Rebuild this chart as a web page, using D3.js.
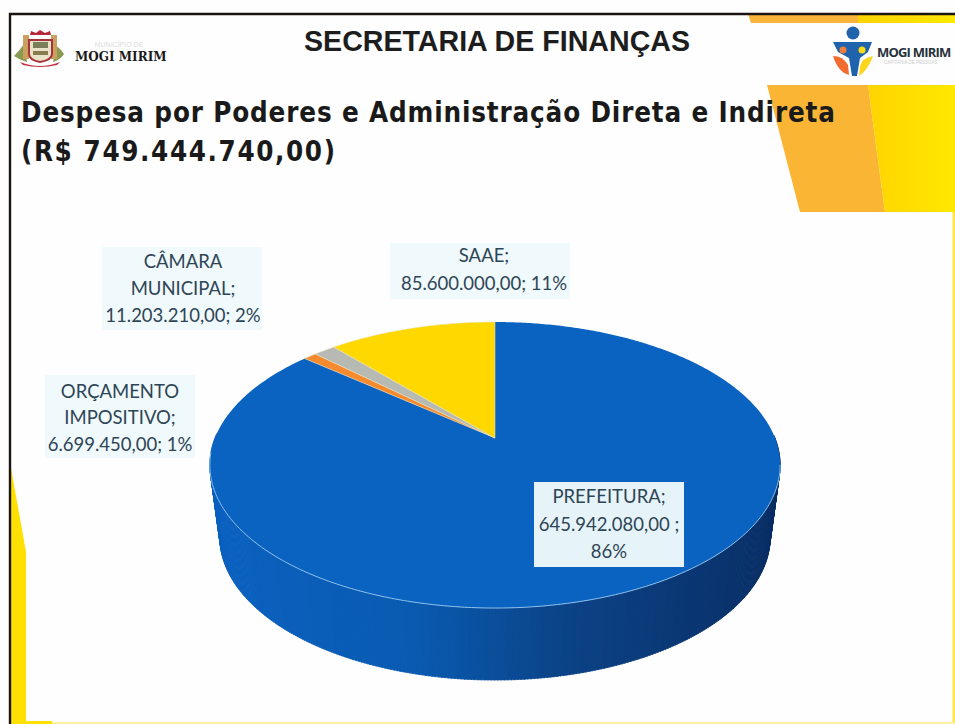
<!DOCTYPE html>
<html>
<head>
<meta charset="utf-8">
<script src="https://cdn.jsdelivr.net/npm/d3@7"></script>
<style>
html,body{margin:0;padding:0;background:#fff;overflow:hidden}
svg{display:block}
</style>
</head>
<body>
<svg id="c" width="955" height="724"></svg>
<script>
// ---- data ----
const categories = ["PREFEITURA", "ORÇAMENTO IMPOSITIVO", "CÂMARA MUNICIPAL", "SAAE"];
const values = [645942080, 6699450, 11203210, 85600000];
const percentLabels = ["86%", "1%", "2%", "11%"];
const colors = ["#0b63c1", "#f58b2e", "#b6bab2", "#ffd800"];
const labelLines = [
  ["PREFEITURA;", "645.942.080,00 ;", "86%"],
  ["ORÇAMENTO", "IMPOSITIVO;", "6.699.450,00; 1%"],
  ["CÂMARA", "MUNICIPAL;", "11.203.210,00; 2%"],
  ["SAAE;", "85.600.000,00; 11%"]
];
const titleText = "SECRETARIA DE FINANÇAS";
const subtitleLines = ["Despesa por Poderes e Administração Direta e Indireta", "(R$ 749.444.740,00)"];

// ---- layout ----
const labelBoxes = [
  {x:534,y:482,w:150,h:85,tx:609,base:[503,531,558]},
  {x:45,y:375,w:150,h:83,tx:120,base:[398,424,451]},
  {x:102,y:247,w:160,h:83,tx:183,base:[268,295,322]},
  {x:390,y:243,w:180,h:56,tx:484,base:[262,290]}
];
const svg = d3.select("#c");
const defs = svg.append("defs");

const yg = defs.append("linearGradient").attr("id","yg");
yg.append("stop").attr("offset","0").attr("stop-color","#ffd400");
yg.append("stop").attr("offset","1").attr("stop-color","#ffe800");

// ---- slide decoration ----
svg.append("rect").attr("width",955).attr("height",724).attr("fill","#fefefe");
const poly = (pts,fill)=>svg.append("polygon").attr("points",pts.join(" ")).attr("fill",fill);
poly([[748,14],[858,14],[858,23],[751,23]],"#fbb53a");
poly([[858,14],[955,14],[955,23],[858,23]],"url(#yg)");
poly([[767,85],[868,85],[885,212],[800,212]],"#fbb535");
poly([[868,85],[955,85],[955,212],[885,212]],"url(#yg)");
poly([[952.5,212],[955,212],[955,724],[952.5,724]],"#ffe44a");
poly([[11,468],[26,552],[26,724],[11,724]],"#ffe000");
poly([[11,721],[52,721],[52,724],[11,724]],"#ffe000");
poly([[52,722],[955,722],[955,724],[52,724]],"#fff0a0");
svg.append("path").attr("d","M955,14H10V724").attr("fill","none").attr("stroke","#1a1512").attr("stroke-width",2.4);

// ---- left crest ----
const crest = svg.append("g");
crest.append("path").attr("d","M14,56 Q20,50 24,44 L27,62 Q20,60 14,56Z M64,54 Q60,48 56,46 L53,62 Q60,60 64,54Z").attr("fill","#8a9a50");
crest.append("rect").attr("x",23).attr("y",35).attr("width",6).attr("height",24).attr("fill","#c9a060");
crest.append("rect").attr("x",51).attr("y",35).attr("width",6).attr("height",24).attr("fill","#c9a060");
crest.append("path").attr("d","M29,40 H52 V54 Q52,60 40,62 Q29,60 29,54Z").attr("fill","#e9e2c6").attr("stroke","#a8323c").attr("stroke-width",2);
crest.append("path").attr("d","M30,35 L31,31 L36,33 L40,30 L45,33 L50,31 L51,35Z").attr("fill","#b5283a");
crest.append("rect").attr("x",33).attr("y",42).attr("width",15).attr("height",6).attr("fill","#7a7f5a");
crest.append("rect").attr("x",33).attr("y",51).attr("width",15).attr("height",4).attr("fill","#8a7a50");
crest.append("path").attr("d","M20,62 Q40,70 60,62 L57,65 Q40,69 23,65Z").attr("fill","#c23040");
svg.append("text").attr("x",119).attr("y",47).attr("text-anchor","middle").attr("font-family","Liberation Sans").attr("font-size",7).attr("fill","#ddd").text("MUNICÍPIO DE");
svg.append("text").attr("x",75).attr("y",61).attr("font-family","DejaVu Serif").attr("font-weight","bold").attr("font-size",12).attr("fill","#1a1a1a").text("MOGI MIRIM");

// ---- right logo ----
const logo = svg.append("g");
logo.append("circle").attr("cx",853).attr("cy",33).attr("r",6.5).attr("fill","#1f63ad");
logo.append("path").attr("d","M833,42 H872 L868,52 L860,58 L857,76 L852,76 L849,58 L838,52Z").attr("fill","#1f63ad");
logo.append("circle").attr("cx",843).attr("cy",50).attr("r",3.5).attr("fill","#ef7d3a");
logo.append("circle").attr("cx",862).attr("cy",50).attr("r",3.5).attr("fill","#f7d917");
logo.append("path").attr("d","M833,56 Q843,56 848,65 L849,75 Q838,72 833,56Z").attr("fill","#f26b30");
logo.append("path").attr("d","M873,56 Q862,58 860,66 L859,76 Q868,70 873,56Z").attr("fill","#fbd61c");
svg.append("text").attr("x",877).attr("y",57).attr("font-family","Open Sans").attr("font-weight","bold").attr("font-size",13).attr("letter-spacing",-0.8).attr("fill","#27323c").text("MOGI MIRIM");
svg.append("text").attr("x",884).attr("y",64).attr("font-family","Liberation Sans").attr("font-size",4.5).attr("fill","#ccc").text("CAPITANIA DE PESSOAS");

// ---- titles ----
svg.append("text").attr("x",497).attr("y",51).attr("text-anchor","middle")
  .attr("font-family","Liberation Sans").attr("font-weight","bold").attr("font-size",28.6).attr("fill","#1d1d1d").text(titleText);
svg.selectAll("text.sub").data(subtitleLines).join("text").attr("class","sub")
  .attr("x",21).attr("y",(d,i)=>i?161:122)
  .attr("font-family","'DejaVu Sans Condensed','DejaVu Sans'").attr("font-weight","bold").attr("font-size",27.5).attr("fill","#1a1a1a")
  .attr("textLength",(d,i)=>i?314:814).attr("lengthAdjust","spacing").text(d=>d);

// ---- 3D pie: d3.pie angles through a perspective projection ----
const cx = 495, apexY = 438, k = -0.189, by = 137.9, rx0 = 280;
const project = (a, sx=1, dy=0) => {
  const u = Math.sin(a), v = -Math.cos(a), w = 1 + k*v;
  return [cx + sx*rx0*u/w, apexY + by*v/w + dy];
};
const arcs = d3.pie().sort(null).startAngle(0).endAngle(2*Math.PI)(values);
const line = d3.line();
const depth = 72, shrink = 0.965, STEP = 0.01;

// side wall
const shade = d3.scaleLinear().domain([213,420,560,778]).range(["#0b62c0","#0a5ab0","#0b4488","#0a2f66"]);
const sideAngles = d3.range(Math.PI/2 - 0.02, 3*Math.PI/2 + 0.02, STEP);
svg.append("g").selectAll("path").data(sideAngles).join("path")
  .attr("d",a=>line([project(a),project(a+STEP*1.4),project(a+STEP*1.4,shrink,depth),project(a,shrink,depth)])+"Z")
  .attr("fill",a=>shade(project(a)[0]))
  .attr("stroke",a=>shade(project(a)[0])).attr("stroke-width",0.6);

// top face
svg.append("g").selectAll("path").data(arcs).join("path")
  .attr("d",d=>{
    const n = Math.max(2,Math.ceil((d.endAngle-d.startAngle)/STEP));
    const pts = d3.range(n+1).map(i=>project(d.startAngle+(d.endAngle-d.startAngle)*i/n));
    return line([[cx,apexY],...pts])+"Z";
  })
  .attr("fill",(d,i)=>colors[i]).attr("stroke",(d,i)=>i?"#e8e4c0":"none").attr("stroke-width",0.5);

// light seam along the front rim
const rim = d3.range(Math.PI*0.56, Math.PI*1.47, STEP).map(a=>project(a));
svg.append("path").attr("d",line(rim)).attr("fill","none").attr("stroke","#8fc2ec").attr("stroke-width",1);

// ---- data labels ----
const g = svg.append("g").selectAll("g").data(categories).join("g");
g.append("rect")
  .attr("x",(d,i)=>labelBoxes[i].x).attr("y",(d,i)=>labelBoxes[i].y)
  .attr("width",(d,i)=>labelBoxes[i].w).attr("height",(d,i)=>labelBoxes[i].h)
  .attr("fill",(d,i)=>i?"#f0f9fb":"#e6f4f9");
g.each(function(d,i){
  d3.select(this).selectAll("text").data(labelLines[i]).join("text")
    .attr("x",labelBoxes[i].tx)
    .attr("y",(t,j)=>labelBoxes[i].base[j])
    .attr("text-anchor","middle").attr("font-family","Lato").attr("font-size",18.5)
    .attr("fill","#2e4556").text(t=>t);
});
</script>
</body>
</html>
